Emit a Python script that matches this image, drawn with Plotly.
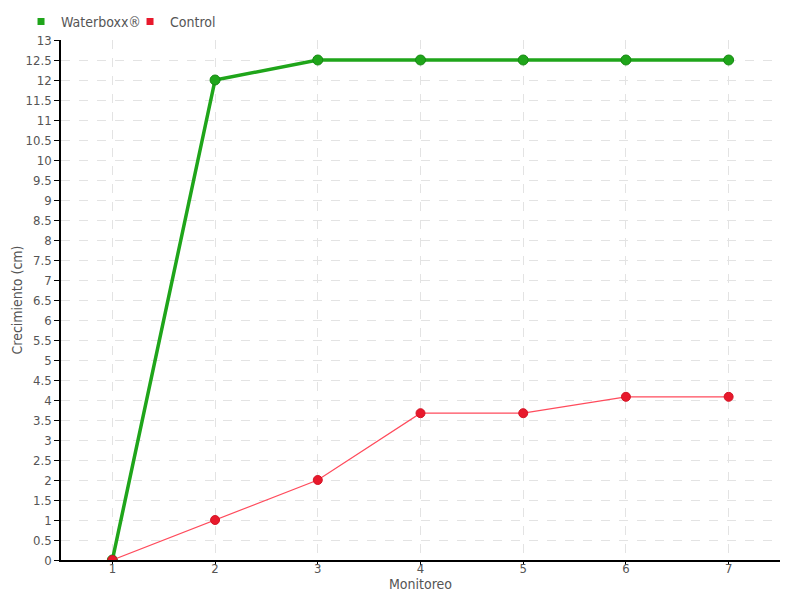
import plotly.graph_objects as go

monitoreo = [1, 2, 3, 4, 5, 6, 7]
waterboxx = [0, 12, 12.5, 12.5, 12.5, 12.5, 12.5]
control = [0, 1, 2, 3.67, 3.67, 4.08, 4.08]
y_ticks = [i * 0.5 for i in range(27)]
y_ticktext = [("%g" % v) for v in y_ticks]

font_family = "DejaVu Sans Condensed, Roboto"
text_color = "#555555"
green = "#1fa51a"
red = "#e8192c"

fig = go.Figure()
fig.add_trace(go.Scatter(
    x=monitoreo, y=waterboxx, name="Waterboxx®", mode="lines+markers",
    line=dict(color=green, width=3.5),
    marker=dict(size=10, color=green, line=dict(color="#168a12", width=1)),
    showlegend=False,
))
fig.add_trace(go.Scatter(
    x=monitoreo, y=control, name="Control", mode="lines+markers",
    line=dict(color="#ff4b5c", width=1.2),
    marker=dict(size=9, color=red, line=dict(color="#d41526", width=1)),
    showlegend=False,
))
# legend-only entries with square symbols
fig.add_trace(go.Scatter(x=[None], y=[None], name="Waterboxx®", mode="markers",
                         marker=dict(symbol="square", size=7, color=green)))
fig.add_trace(go.Scatter(x=[None], y=[None], name="Control", mode="markers",
                         marker=dict(symbol="square", size=7, color=red)))

# page body has an 8px margin, so margins are compensated
fig.update_layout(
    width=800, height=600,
    margin=dict(l=53, r=28, t=32, b=48, autoexpand=False),
    paper_bgcolor="white", plot_bgcolor="white",
    font=dict(family=font_family, color=text_color, size=13),
    showlegend=True,
    legend=dict(orientation="h", x=-0.0556, xref="paper", y=1.004, yref="paper",
                yanchor="bottom", xanchor="left",
                font=dict(size=14, color=text_color),
                entrywidth=64, entrywidthmode="pixels",
                tracegroupgap=0, bgcolor="rgba(0,0,0,0)"),
)
fig.update_xaxes(
    range=[0.5, 7.5], tickvals=monitoreo, ticktext=[str(v) for v in monitoreo],
    showline=True, linecolor="black", linewidth=1.5,
    ticks="outside", ticklen=3, tickcolor="black",
    showgrid=True, gridcolor="#e3e3e3", griddash="dash", zeroline=False,
    title=dict(text="Monitoreo", standoff=0, font=dict(size=14)),
    tickfont=dict(size=13), automargin=False, ticklabelstandoff=-7,
)
fig.update_yaxes(
    range=[0, 13], tickvals=y_ticks, ticktext=y_ticktext,
    showline=True, linecolor="black", linewidth=1.5,
    ticks="outside", ticklen=5, tickcolor="black",
    showgrid=True, gridcolor="#e3e3e3", griddash="dash", zeroline=False,
    title=dict(text="Crecimiento (cm)", standoff=0, font=dict(size=14)),
    tickfont=dict(size=13), automargin=False,
)

fig.write_html("out.html")
